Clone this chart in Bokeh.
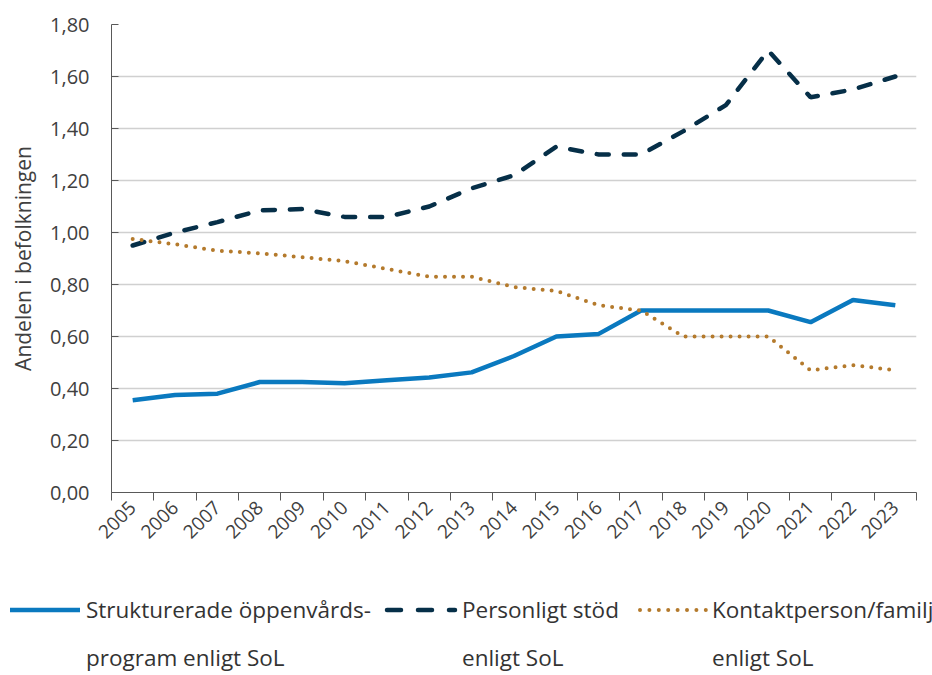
import math
from bokeh.plotting import figure
from bokeh.layouts import column
from bokeh.models import FixedTicker, Range1d, Div
from bokeh.embed import file_html
from bokeh.resources import INLINE

years = ["2005", "2006", "2007", "2008", "2009", "2010", "2011", "2012", "2013", "2014",
         "2015", "2016", "2017", "2018", "2019", "2020", "2021", "2022", "2023"]
strukturerade = [0.355, 0.375, 0.38, 0.425, 0.425, 0.42, 0.432, 0.442, 0.462, 0.525,
                 0.60, 0.61, 0.70, 0.70, 0.70, 0.70, 0.655, 0.74, 0.72]
personligt = [0.95, 1.00, 1.04, 1.085, 1.09, 1.06, 1.06, 1.10, 1.17, 1.22,
              1.33, 1.30, 1.30, 1.39, 1.49, 1.70, 1.52, 1.55, 1.60]
kontakt = [0.975, 0.955, 0.93, 0.92, 0.905, 0.89, 0.86, 0.83, 0.83, 0.79,
           0.775, 0.72, 0.70, 0.60, 0.60, 0.60, 0.47, 0.49, 0.47]
y_ticks = [0.0, 0.2, 0.4, 0.6, 0.8, 1.0, 1.2, 1.4, 1.6, 1.8]
labels_line1 = ["Strukturerade öppenvårds-", "Personligt stöd", "Kontaktperson/familj"]
labels_line2 = ["program enligt SoL", "enligt SoL", "enligt SoL"]

xs = list(range(len(years)))
FONT = "Open Sans"
TXT = "#404040"
COLORS = ["#0A79BF", "#062F48", "#B47A2C"]
STYLES = [dict(line_color=COLORS[0], line_width=4.5),
          dict(line_color=COLORS[1], line_width=4.5, line_dash="12 15", line_cap="round"),
          dict(line_color=COLORS[2], line_width=4, line_dash="0 9", line_cap="round")]

W = 932
MAIN_H = 560
LEG_H = 115

p = figure(width=W, height=MAIN_H, output_backend="svg", toolbar_location=None,
           x_range=Range1d(-0.5, len(years) - 0.5), y_range=Range1d(0, 1.8),
           min_border_left=111, min_border_right=16, min_border_top=24,
           min_border_bottom=MAIN_H - 492)
p.outline_line_color = None

for ys, st in zip([strukturerade, personligt, kontakt], STYLES):
    p.line(xs, ys, **st)

# y axis
p.yaxis.ticker = FixedTicker(ticks=y_ticks)
p.yaxis.major_label_overrides = {t: f"{t:.2f}".replace(".", ",") for t in y_ticks}
p.yaxis.minor_tick_line_color = None
p.yaxis.major_tick_in = 7
p.yaxis.major_tick_out = 0
p.yaxis.major_tick_line_color = "#595959"
p.yaxis.axis_line_color = "#595959"
p.yaxis.major_label_text_font = FONT
p.yaxis.major_label_text_font_size = "20px"
p.yaxis.major_label_text_color = TXT
p.yaxis.major_label_standoff = 22
p.yaxis.axis_label = "Andelen i befolkningen"
p.yaxis.axis_label_text_font = FONT
p.yaxis.axis_label_text_font_style = "normal"
p.yaxis.axis_label_text_font_size = "21px"
p.yaxis.axis_label_text_color = TXT
p.yaxis.axis_label_standoff = 10

# x axis
p.xaxis.ticker = FixedTicker(ticks=xs, minor_ticks=[i - 0.5 for i in range(len(years) + 1)])
p.xaxis.major_label_overrides = {i: y for i, y in enumerate(years)}
p.xaxis.major_tick_line_color = None
p.xaxis.minor_tick_line_color = "#595959"
p.xaxis.minor_tick_out = 8
p.xaxis.minor_tick_in = 0
p.xaxis.axis_line_color = "#595959"
p.xaxis.major_label_orientation = math.pi / 4
p.xaxis.major_label_text_font = FONT
p.xaxis.major_label_text_font_size = "19px"
p.xaxis.major_label_text_color = TXT
p.xaxis.major_label_standoff = 4

p.xgrid.grid_line_color = None
p.ygrid.grid_line_color = "#D0D0D0"
p.ygrid.grid_line_width = 1.5

# legend strip (HTML): swatches + two-line labels
SW_Y = 50
swatches = [
    f'<line x1="10" y1="{SW_Y}" x2="80" y2="{SW_Y}" stroke="{COLORS[0]}" stroke-width="4.5"/>',
    f'<line x1="387" y1="{SW_Y}" x2="455" y2="{SW_Y}" stroke="{COLORS[1]}" stroke-width="4.5" '
    f'stroke-dasharray="14 17" stroke-linecap="round"/>',
    f'<line x1="640" y1="{SW_Y}" x2="706" y2="{SW_Y}" stroke="{COLORS[2]}" stroke-width="4" '
    f'stroke-dasharray="0 9.4" stroke-linecap="round"/>',
]
text_x = [86, 462, 712]
texts = "".join(
    f'<div style="position:absolute;left:{tx}px;top:26px;line-height:48px;white-space:nowrap;">'
    f'{a}<br>{b}</div>'
    for tx, a, b in zip(text_x, labels_line1, labels_line2))
html = (f'<div style="position:relative;width:{W}px;height:{LEG_H}px;overflow:hidden;'
        f'font-family:\'Open Sans\';font-size:22.5px;color:#333333;">'
        f'<svg style="position:absolute;left:0;top:0" width="{W}" height="{LEG_H}">'
        + "".join(swatches) + '</svg>' + texts + '</div>')
legend_div = Div(text=html, width=W, height=LEG_H, margin=(0, 0, 0, 0))

open("out.html", "w").write(file_html(column(p, legend_div, spacing=0), INLINE))
